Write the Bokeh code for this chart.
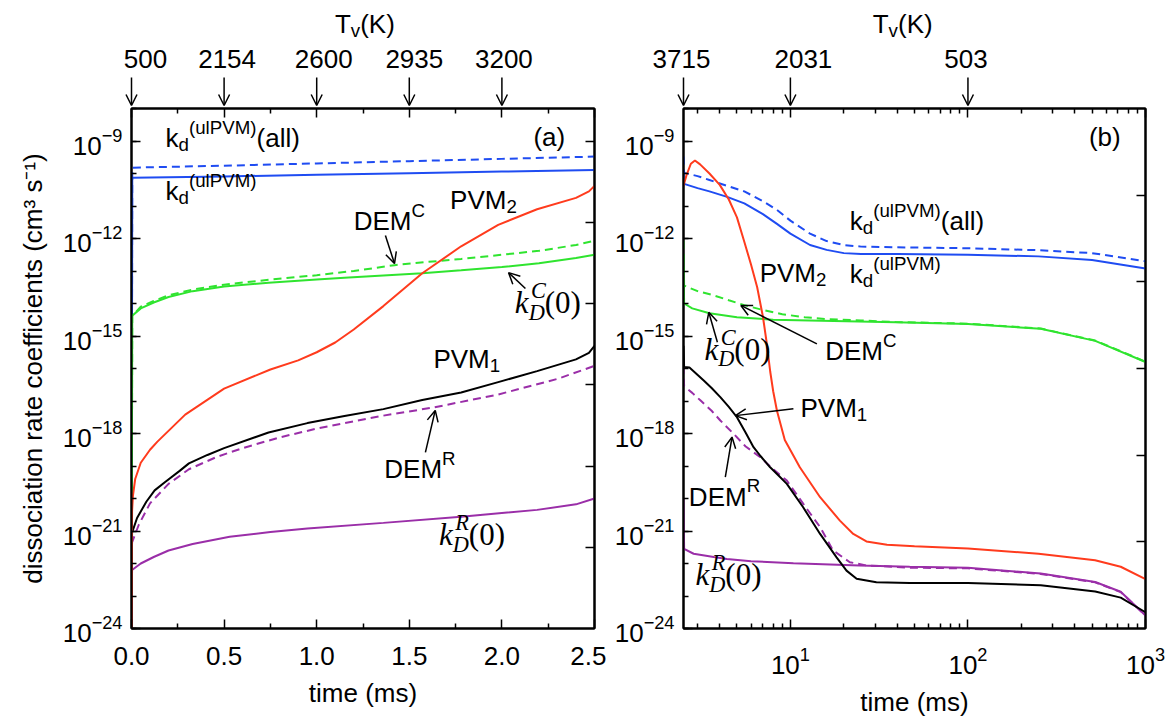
import numpy as np
from bokeh.plotting import figure
from bokeh.layouts import row, column
from bokeh.models import (Range1d, LinearAxis, LogAxis, FixedTicker, CustomJSTickFormatter,
                          PrintfTickFormatter, Label, Arrow, OpenHead, LogScale)
from bokeh.embed import file_html
from bokeh.resources import INLINE

SANS = "Liberation Sans"
SERIF = "Liberation Serif"

# ---------------- data (time in ms, values given as log10 of k in cm^3 s^-1) ----------------
# panel (a)
ta_blue = [0, 0.004, 0.5, 1.0, 1.5, 2.0, 2.5]
ea_blue_solid = [-25, -10.13, -10.09, -10.04, -9.99, -9.94, -9.89]
ea_blue_dash = [-25, -9.82, -9.76, -9.69, -9.62, -9.55, -9.48]

ta_green_solid = [0, 0.004, 0.05, 0.12, 0.2, 0.33, 0.5, 0.74, 1.0, 1.15, 1.36, 1.57, 1.78, 2.0, 2.2, 2.4, 2.5]
ea_green_solid = [-25, -14.38, -14.15, -13.97, -13.8, -13.62, -13.48, -13.36, -13.26, -13.21, -13.14,
                  -13.07, -12.98, -12.88, -12.76, -12.6, -12.5]
ta_green_dash = [0, 0.004, 0.05, 0.12, 0.2, 0.33, 0.5, 0.74, 1.0, 1.2, 1.42, 1.6, 1.78, 2.0, 2.2, 2.4, 2.5]
ea_green_dash = [-25, -14.38, -14.1, -13.92, -13.75, -13.57, -13.42, -13.27, -13.13, -13.0, -12.82,
                 -12.72, -12.63, -12.5, -12.38, -12.2, -12.07]

ta_red = [0, 0.003, 0.008, 0.02, 0.05, 0.1, 0.14, 0.29, 0.5, 0.75, 0.9, 1.0, 1.1, 1.2, 1.36, 1.57, 1.78,
          1.98, 2.19, 2.4, 2.47, 2.5]
ea_red = [-25, -20.4, -19.9, -19.4, -18.9, -18.5, -18.25, -17.42, -16.62, -16.03, -15.75, -15.5, -15.2,
          -14.8, -14.08, -13.07, -12.24, -11.58, -11.1, -10.75, -10.55, -10.38]

ta_black = [0, 0.003, 0.03, 0.08, 0.125, 0.18, 0.26, 0.31, 0.41, 0.5, 0.74, 0.95, 1.15, 1.36, 1.57, 1.78,
            1.98, 2.19, 2.4, 2.47, 2.5]
ea_black = [-25, -21.05, -20.6, -20.1, -19.75, -19.5, -19.15, -18.92, -18.66, -18.45, -17.97, -17.68,
            -17.46, -17.25, -16.97, -16.74, -16.42, -16.08, -15.72, -15.52, -15.3]

ta_purple_dash = [0, 0.003, 0.04, 0.1, 0.2, 0.31, 0.46, 0.6, 0.8, 1.0, 1.36, 1.63, 1.98, 2.3, 2.5]
ea_purple_dash = [-25, -21.35, -20.8, -20.15, -19.55, -19.1, -18.72, -18.45, -18.12, -17.85, -17.45,
                  -17.2, -16.8, -16.32, -15.92]

ta_purple = [0, 0.003, 0.05, 0.12, 0.2, 0.33, 0.53, 0.75, 0.95, 1.36, 1.78, 2.19, 2.4, 2.5]
ea_purple = [-25, -22.2, -22.0, -21.8, -21.6, -21.4, -21.18, -21.03, -20.92, -20.75, -20.56, -20.35,
             -20.18, -20.0]

# panel (b)
tb_blue = [2.5, 2.52, 3, 3.5, 4.4, 5.5, 7, 8.4, 10, 12.9, 16, 20, 25, 40, 100, 250, 500, 1000]
eb_blue_solid = [-9.89, -10.32, -10.45, -10.55, -10.72, -10.92, -11.25, -11.55, -11.85, -12.2, -12.35,
                 -12.45, -12.48, -12.48, -12.5, -12.55, -12.66, -12.92]
eb_blue_dash = [-9.48, -9.98, -10.08, -10.2, -10.38, -10.55, -10.85, -11.12, -11.45, -11.85, -12.08,
                -12.2, -12.25, -12.27, -12.3, -12.36, -12.45, -12.7]

tb_green_solid = [2.5, 2.52, 2.8, 3.5, 5, 8, 15, 39, 100, 257, 521, 1000]
eb_green_solid = [-12.5, -14.0, -14.15, -14.3, -14.42, -14.5, -14.53, -14.58, -14.63, -14.78, -15.15, -15.8]
tb_green_dash = [2.5, 2.52, 3.0, 3.7, 4.5, 5.5, 7, 9, 12, 16, 25, 39, 100, 257, 521, 1000]
eb_green_dash = [-12.07, -13.45, -13.62, -13.75, -13.9, -14.05, -14.2, -14.33, -14.42, -14.48, -14.52,
                 -14.57, -14.62, -14.77, -15.14, -15.79]

tb_red = [2.5, 2.6, 2.75, 2.9, 3.1, 3.5, 4.0, 4.5, 5.0, 5.5, 6.0, 6.5, 7.0, 7.35, 7.7, 8.0, 8.4, 9.3,
          11.3, 14.7, 19, 22.6, 26.8, 35, 50, 100, 250, 520, 725, 1000]
eb_red = [-10.38, -10.05, -9.7, -9.6, -9.72, -10.0, -10.35, -10.8, -11.35, -12.1, -12.8, -13.5, -14.4,
          -15.2, -16.1, -16.7, -17.3, -18.2, -19.04, -19.96, -20.68, -21.09, -21.32, -21.42, -21.47,
          -21.54, -21.7, -21.9, -22.1, -22.48]

tb_black = [2.5, 2.52, 2.7, 2.9, 3.25, 3.6, 4.03, 4.5, 5.0, 5.6, 6.2, 6.8, 7.69, 8.6, 9.55, 11.8, 14.7,
            18.2, 20.7, 23.6, 30.5, 47, 100, 257, 521, 725, 1000]
eb_black = [-15.3, -15.95, -15.97, -16.12, -16.37, -16.6, -16.88, -17.18, -17.5, -17.98, -18.42, -18.7,
            -19.04, -19.3, -19.55, -20.27, -21.09, -21.81, -22.22, -22.47, -22.58, -22.6, -22.6, -22.67,
            -22.86, -23.05, -23.5]

tb_purple_dash = [2.5, 2.52, 2.8, 3.11, 3.6, 4.03, 4.79, 5.6, 6.77, 8.0, 9.55, 11.8, 14.7, 17.4, 21.6,
                  26.8, 47, 100, 257, 521, 725, 1000]
eb_purple_dash = [-15.92, -16.55, -16.75, -16.98, -17.3, -17.6, -18.01, -18.4, -18.73, -19.1, -19.45,
                  -20.16, -20.88, -21.6, -21.96, -22.06, -22.13, -22.15, -22.32, -22.58, -22.88, -23.6]

tb_purple = [2.5, 2.52, 2.85, 3.7, 4.39, 6, 10.4, 24.5, 47, 100, 257, 521, 725, 1000]
eb_purple = [-20.0, -21.55, -21.7, -21.8, -21.86, -21.93, -21.99, -22.06, -22.1, -22.13, -22.31, -22.57,
             -22.87, -23.6]

# top axis (vibrational temperature) markers
tv_a_times = [0, 0.5, 1.0, 1.5, 2.0]
tv_a_labels = ["500", "2154", "2600", "2935", "3200"]
tv_b_times = [2.5, 10, 100]
tv_b_labels = ["3715", "2031", "503"]

# ticks
xa_major = [0, 0.5, 1.0, 1.5, 2.0, 2.5]
xa_minor = [0.25, 0.75, 1.25, 1.75, 2.25]
xb_major = [10, 100, 1000]
xb_minor = [3, 4, 5, 6, 7, 8, 9, 20, 30, 40, 50, 60, 70, 80, 90, 200, 300, 400, 500, 600, 700, 800, 900]
y_major_exp = [-24, -21, -18, -15, -12, -9]
y_minor_exp = list(range(-24, -7))
ra_exp = [-21.5, -19, -16.5, -14, -11.5, -9]
rb_exp = [-21.333, -18.667, -16, -13.333, -10.667]

# ---------------- style ----------------
BLUE = "#1f4cf2"
RED = "#ff3b1d"
GREEN = "#2fe42f"
PURPLE = "#9a2ea8"
BLACK = "#000000"
LW = 2.0
DASH = "8 5"
TICK_FS = "26px"
AXLAB_FS = "26px"
FS = 26
MS = 31
CORR = 0.35  # baseline correction (fraction of font size)

W_SANS = {' ': .278, '(': .333, ')': .333, 'A': .667, 'C': .722, 'D': .722, 'E': .667, 'K': .667,
          'M': .833, 'P': .667, 'R': .722, 'T': .611, 'V': .667, 'a': .556, 'd': .556, 'l': .222,
          'u': .556, 'k': .5, 'v': .5}
W_SERIF_I = {'k': .444, 'D': .722, 'C': .667, 'R': .611, '(': .333, ')': .333, '0': .5}
FAMS = {"sans": (SANS, "normal", W_SANS),
        "math": (SERIF, "italic", W_SERIF_I),
        "mathup": (SERIF, "normal", W_SERIF_I)}
SS = 0.72


def tw(s, size, table):
    return sum(table.get(c, 0.556) for c in s) * size


def rich(p, x, y, parts, size, align="left"):
    items = []
    adv = 0.0
    for text, kind, fam in parts:
        font, style, table = FAMS[fam]
        if kind == "n":
            w = tw(text, size, table)
            items.append((text, adv, 0.0, size, font, style))
        elif kind == "sub":
            s = size * SS
            w = tw(text, s, table)
            items.append((text, adv, -0.25 * size, s, font, style))
        elif kind == "sup":
            s = size * SS
            w = tw(text, s, table)
            items.append((text, adv, 0.42 * size, s, font, style))
        else:  # stacked sub/sup
            s = size * SS
            sb, sp = text
            w = max(tw(sb, s, table), tw(sp, s, table))
            items.append((sb, adv, -0.3 * size, s, font, style))
            items.append((sp, adv + 0.08 * size, 0.38 * size, s, font, style))
        adv += w
    shift = {"left": 0.0, "center": -adv / 2, "right": -adv}[align]
    for text, xo, yo, s, font, style in items:
        p.add_layout(Label(x=x, y=y, x_offset=xo + shift, y_offset=yo + CORR * size, text=text,
                           text_font=font, text_font_size=f"{s:.1f}px", text_font_style=style,
                           text_color="black", text_baseline="alphabetic", text_align="left"))


def arrow(p, x0, y0, x1, y1):
    p.add_layout(Arrow(end=OpenHead(size=11, line_width=1.5, line_color="black"),
                       x_start=x0, y_start=y0, x_end=x1, y_end=y1,
                       line_width=1.5, line_color="black"))


def darrow(p, x0, e0, x1, e1):
    arrow(p, x0, 10 ** e0, x1, 10 ** e1)


BLANK = CustomJSTickFormatter(code="return ''")


def no_align(p):
    try:
        p.frame_align = False
    except Exception:
        pass


def style_axis(ax, labels=True):
    ax.axis_line_width = 2
    ax.axis_line_color = "black"
    ax.major_tick_in = 9
    ax.major_tick_out = 0
    ax.minor_tick_in = 5
    ax.minor_tick_out = 0
    ax.major_tick_line_width = 1.5
    ax.minor_tick_line_width = 1.5
    ax.major_tick_line_color = "black"
    ax.minor_tick_line_color = "black"
    ax.major_label_text_font = SANS
    ax.major_label_text_font_size = TICK_FS
    ax.major_label_text_color = "black"
    ax.axis_label_text_font = SANS
    ax.axis_label_text_font_size = AXLAB_FS
    ax.axis_label_text_font_style = "normal"
    ax.axis_label_text_color = "black"
    if not labels:
        ax.formatter = BLANK
        ax.major_label_standoff = 0
        ax.major_label_text_font_size = "1px"


def make_fig(x_range, x_type, left, right, fw):
    p = figure(frame_width=fw, frame_height=520,
               x_range=x_range, y_range=Range1d(1e-24, 1e-8),
               x_axis_type=x_type, y_axis_type="log",
               output_backend="svg", toolbar_location=None,
               min_border_left=left, min_border_right=right, min_border_top=2, min_border_bottom=90)
    no_align(p)
    p.xgrid.visible = False
    p.ygrid.visible = False
    p.outline_line_color = "black"
    p.outline_line_width = 2
    p.background_fill_color = "white"
    p.border_fill_color = "white"
    return p


def make_top(x_range, log, fw, left):
    p = figure(frame_width=fw, frame_height=106, x_range=x_range, y_range=Range1d(106, 0),
               x_axis_location=None, y_axis_location=None,
               output_backend="svg", toolbar_location=None,
               min_border_left=left, min_border_right=0, min_border_top=0, min_border_bottom=0)
    no_align(p)
    if log:
        p.x_scale = LogScale()
    p.xgrid.visible = False
    p.ygrid.visible = False
    p.outline_line_color = None
    p.background_fill_color = "white"
    p.border_fill_color = "white"
    return p


def line(p, t, e, color, dash=None):
    kw = dict(line_color=color, line_width=LW)
    if dash:
        kw["line_dash"] = dash
    p.line(x=t, y=10 ** np.array(e, dtype=float), **kw)


def setup_bottom_left(p, xt, xm, fmt, ylabel):
    style_axis(p.xaxis[0])
    p.xaxis[0].ticker = FixedTicker(ticks=xt, minor_ticks=xm)
    if fmt is not None:
        p.xaxis[0].formatter = fmt
    p.xaxis[0].axis_label = "time (ms)"
    p.xaxis[0].major_label_standoff = 18
    p.xaxis[0].axis_label_standoff = 10
    style_axis(p.yaxis[0])
    p.yaxis[0].ticker = FixedTicker(ticks=[10.0 ** e for e in y_major_exp],
                                    minor_ticks=[10.0 ** e for e in y_minor_exp])
    p.yaxis[0].major_label_standoff = 9
    if ylabel:
        p.yaxis[0].axis_label = ylabel
        p.yaxis[0].axis_label_standoff = 12


def top_markers(p, times, labels, offsets, title_x):
    for t, lab, off in zip(times, labels, offsets):
        arrow(p, t, 77, t, 105)
        p.add_layout(Label(x=t, y=68, x_offset=off, y_offset=CORR * 26, text=lab, text_font=SANS,
                           text_font_size=TICK_FS, text_align="center", text_baseline="alphabetic",
                           text_color="black"))
    rich(p, title_x, 33, [("T", "n", "sans"), ("v", "sub", "sans"), ("(K)", "n", "sans")], FS,
         align="center")


# ---------------- panel (a) ----------------
FW_A = 463
pa = make_fig(Range1d(0, 2.5), "linear", 131, 12, FW_A)
setup_bottom_left(pa, xa_major, xa_minor, PrintfTickFormatter(format="%.1f"),
                  "dissociation rate coefficients (cm³ s⁻¹)")
top_ax = LinearAxis(ticker=FixedTicker(ticks=xa_major, minor_ticks=xa_minor))
style_axis(top_ax, labels=False)
pa.add_layout(top_ax, "above")
right_ax = LogAxis(ticker=FixedTicker(ticks=[10.0 ** e for e in ra_exp], minor_ticks=[]))
style_axis(right_ax, labels=False)
pa.add_layout(right_ax, "right")

line(pa, ta_blue, ea_blue_solid, BLUE)
line(pa, ta_blue, ea_blue_dash, BLUE, DASH)
line(pa, ta_green_solid, ea_green_solid, GREEN)
line(pa, ta_green_dash, ea_green_dash, GREEN, DASH)
line(pa, ta_purple, ea_purple, PURPLE)
line(pa, ta_purple_dash, ea_purple_dash, PURPLE, DASH)
line(pa, ta_black, ea_black, BLACK)
line(pa, ta_red, ea_red, RED)

rich(pa, 0.184, 10 ** -9.2, [("k", "n", "sans"), ("d", "sub", "sans"), ("(ulPVM)", "sup", "sans"),
                             ("(all)", "n", "sans")], FS)
rich(pa, 0.184, 10 ** -10.83, [("k", "n", "sans"), ("d", "sub", "sans"), ("(ulPVM)", "sup", "sans")], FS)
rich(pa, 1.72, 10 ** -11.08, [("PVM", "n", "sans"), ("2", "sub", "sans")], FS)
rich(pa, 1.20, 10 ** -11.75, [("DEM", "n", "sans"), ("C", "sup", "sans")], FS)
rich(pa, 2.07, 10 ** -14.31, [("k", "n", "math"), (("D", "C"), "subsup", "math"), ("(0)", "n", "mathup")], MS)
rich(pa, 1.63, 10 ** -16.0, [("PVM", "n", "sans"), ("1", "sub", "sans")], FS)
rich(pa, 1.365, 10 ** -19.38, [("DEM", "n", "sans"), ("R", "sup", "sans")], FS)
rich(pa, 1.66, 10 ** -21.45, [("k", "n", "math"), (("D", "R"), "subsup", "math"), ("(0)", "n", "mathup")], MS)
rich(pa, 2.17, 10 ** -9.17, [("(a)", "n", "sans")], FS)
darrow(pa, 1.371, -11.91, 1.42, -12.77)
darrow(pa, 2.127, -13.54, 2.036, -13.05)
darrow(pa, 1.587, -18.58, 1.64, -17.29)

# top strip (a): extended range so that its scale matches the panel below
pad_l_a, pad_r_a = 30, 12
span_a = 2.5 / FW_A
ta_top = make_top(Range1d(0 - pad_l_a * span_a, 2.5 + pad_r_a * span_a), False,
                  FW_A + pad_l_a + pad_r_a, 131 - pad_l_a)
top_markers(ta_top, tv_a_times, tv_a_labels, [14, 3, 7, 5, 2], 1.26)

# ---------------- panel (b) ----------------
FW_B = 462
pb = make_fig(Range1d(2.5, 1000), "log", 77, 27, FW_B)
setup_bottom_left(pb, xb_major, xb_minor, None, None)
top_bx = LogAxis(ticker=FixedTicker(ticks=xb_major, minor_ticks=xb_minor))
style_axis(top_bx, labels=False)
pb.add_layout(top_bx, "above")
right_bx = LogAxis(ticker=FixedTicker(ticks=[10.0 ** e for e in rb_exp], minor_ticks=[]))
style_axis(right_bx, labels=False)
pb.add_layout(right_bx, "right")

line(pb, tb_blue, eb_blue_solid, BLUE)
line(pb, tb_blue, eb_blue_dash, BLUE, DASH)
line(pb, tb_green_solid, eb_green_solid, GREEN)
line(pb, tb_green_dash, eb_green_dash, GREEN, DASH)
line(pb, tb_red, eb_red, RED)
line(pb, tb_purple, eb_purple, PURPLE)
line(pb, tb_purple_dash, eb_purple_dash, PURPLE, DASH)
line(pb, tb_black, eb_black, BLACK)

rich(pb, 21.6, 10 ** -11.75, [("k", "n", "sans"), ("d", "sub", "sans"), ("(ulPVM)", "sup", "sans"),
                              ("(all)", "n", "sans")], FS)
rich(pb, 21.6, 10 ** -13.38, [("k", "n", "sans"), ("d", "sub", "sans"), ("(ulPVM)", "sup", "sans")], FS)
rich(pb, 6.71, 10 ** -13.35, [("PVM", "n", "sans"), ("2", "sub", "sans")], FS)
rich(pb, 3.28, 10 ** -15.75, [("k", "n", "math"), (("D", "C"), "subsup", "math"), ("(0)", "n", "mathup")], MS)
rich(pb, 15.7, 10 ** -15.75, [("DEM", "n", "sans"), ("C", "sup", "sans")], FS)
rich(pb, 11.4, 10 ** -17.5, [("PVM", "n", "sans"), ("1", "sub", "sans")], FS)
rich(pb, 2.68, 10 ** -20.22, [("DEM", "n", "sans"), ("R", "sup", "sans")], FS)
rich(pb, 2.92, 10 ** -22.68, [("k", "n", "math"), (("D", "R"), "subsup", "math"), ("(0)", "n", "mathup")], MS)
rich(pb, 480, 10 ** -9.17, [("(b)", "n", "sans")], FS)
darrow(pb, 3.88, -15.19, 3.47, -14.27)
darrow(pb, 14.1, -15.24, 5.26, -14.06)
darrow(pb, 10.4, -17.24, 4.9, -17.45)
darrow(pb, 4.3, -19.34, 4.69, -18.11)

# top strip (b)
pad_l_b, pad_r_b = 77, 27
lo, hi = np.log10(2.5), 3.0
span_b = (hi - lo) / FW_B
tb_top = make_top(Range1d(10 ** (lo - pad_l_b * span_b), 10 ** (hi + pad_r_b * span_b)), True,
                  FW_B + pad_l_b + pad_r_b, 0)
top_markers(tb_top, tv_b_times, tv_b_labels, [-2, 13, -2], 42.9)

layout = row(column(ta_top, pa), column(tb_top, pb))
open("out.html", "w").write(file_html(layout, INLINE))
